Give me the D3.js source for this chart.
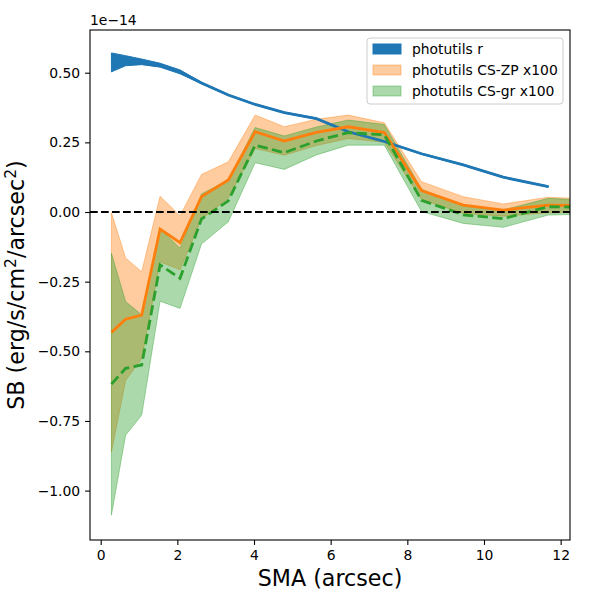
<!DOCTYPE html>
<html>
<head>
<meta charset="utf-8">
<script src="https://cdn.jsdelivr.net/npm/d3@7"></script>
<style>
  body { margin: 0; background: #fff; }
  text { font-family: 'DejaVu Sans', sans-serif; fill: #000; }
</style>
</head>
<body>
<svg></svg>
<script>
/* global d3 */
const width = 600
const height = 600
const margin = { top: 30, bottom: 60, left: 90, right: 30 }

// semi-major axis (arcsec)
const sma = [0.28, 0.65, 1.07, 1.55, 2.07, 2.63, 3.33, 4.03, 4.79, 5.63, 6.46, 7.40, 8.37, 9.46, 10.50, 11.68, 12.85]
// photutils r profile (units of 1e-14), first 16 radii
const rProfile = [0.537, 0.543, 0.539, 0.527, 0.503, 0.463, 0.42, 0.386, 0.357, 0.335, 0.288, 0.253, 0.209, 0.169, 0.125, 0.091]
const rErr = [0.034, 0.018, 0.010, 0.007, 0.007, 0.003, 0.002, 0.002, 0.002, 0.002, 0.002, 0.002, 0.002, 0.002, 0.002, 0.002]
// CS-ZP x100
const zpProfile = [-0.432, -0.385, -0.370, -0.061, -0.110, 0.055, 0.115, 0.288, 0.255, 0.286, 0.306, 0.285, 0.077, 0.025, 0.007, 0.025, 0.023]
const zpErr = [0.43, 0.22, 0.156, 0.118, 0.097, 0.08, 0.065, 0.06, 0.051, 0.047, 0.042, 0.035, 0.032, 0.03, 0.022, 0.028, 0.023]
// CS-gr x100
const grProfile = [-0.618, -0.561, -0.549, -0.19, -0.238, -0.025, 0.04, 0.24, 0.213, 0.255, 0.285, 0.277, 0.042, -0.010, -0.024, 0.019, 0.017]
const grErr = [0.47, 0.24, 0.18, 0.13, 0.108, 0.09, 0.075, 0.063, 0.06, 0.05, 0.045, 0.037, 0.04, 0.031, 0.031, 0.03, 0.024]

const xTicks = [0, 2, 4, 6, 8, 10, 12]
const yTicks = [-1.0, -0.75, -0.5, -0.25, 0, 0.25, 0.5]
const legendLabels = ['photutils r', 'photutils CS-ZP x100', 'photutils CS-gr x100']

const C0 = '#1f77b4'
const C1 = '#ff7f0e'
const C2 = '#2ca02c'

const svg = d3.select('svg').attr('width', width).attr('height', height)

/** Scales */
const xScale = d3.scaleLinear()
  .domain([-0.279, 12.244])
  .range([margin.left, width - margin.right])
const yScale = d3.scaleLinear()
  .domain([-1.1773, 0.6533])
  .range([height - margin.bottom, margin.top])

svg.append('clipPath').attr('id', 'clip')
  .append('rect')
  .attr('x', margin.left).attr('y', margin.top)
  .attr('width', width - margin.left - margin.right)
  .attr('height', height - margin.top - margin.bottom)

const plot = svg.append('g').attr('clip-path', 'url(#clip)')

const rows = (vals, errs) => vals.map((v, i) => ({ x: sma[i], v, e: errs[i] }))
const band = d3.area()
  .x(d => xScale(d.x))
  .y0(d => yScale(d.v - d.e))
  .y1(d => yScale(d.v + d.e))
const line = d3.line()
  .x(d => xScale(d.x))
  .y(d => yScale(d.v))

const rData = rows(rProfile, rErr)
const zpData = rows(zpProfile, zpErr)
const grData = rows(grProfile, grErr)

/** Bands first (below the lines, as in matplotlib) */
plot.append('path').attr('d', band(rData)).attr('fill', C0).attr('stroke', C0).attr('stroke-width', 1)
plot.append('path').attr('d', band(zpData))
  .attr('fill', C1).attr('fill-opacity', 0.4)
  .attr('stroke', C1).attr('stroke-opacity', 0.4).attr('stroke-width', 1)
plot.append('path').attr('d', band(grData))
  .attr('fill', C2).attr('fill-opacity', 0.4)
  .attr('stroke', C2).attr('stroke-opacity', 0.4).attr('stroke-width', 1)

/** Lines */
plot.append('path').attr('d', line(rData)).attr('fill', 'none')
  .attr('stroke', C0).attr('stroke-width', 2.8)
plot.append('path').attr('d', line(zpData)).attr('fill', 'none')
  .attr('stroke', C1).attr('stroke-width', 2.8)
plot.append('path').attr('d', line(grData)).attr('fill', 'none')
  .attr('stroke', C2).attr('stroke-width', 2.8)
  .attr('stroke-dasharray', '10.3,4.4')

// zero line
plot.append('line')
  .attr('x1', margin.left).attr('x2', width - margin.right)
  .attr('y1', yScale(0)).attr('y2', yScale(0))
  .attr('stroke', '#000').attr('stroke-width', 2.1)
  .attr('stroke-dasharray', '7.7,3.3')

/** Axes */
const xAxis = d3.axisBottom(xScale).tickValues(xTicks).tickSize(4.9).tickPadding(4.9)
  .tickFormat(d3.format('d'))
const yAxis = d3.axisLeft(yScale).tickValues(yTicks).tickSize(4.9).tickPadding(4.9)
  .tickFormat(d3.format('.2f'))

const gx = svg.append('g')
  .attr('transform', `translate(0, ${height - margin.bottom})`)
  .call(xAxis)
const gy = svg.append('g')
  .attr('transform', `translate(${margin.left}, 0)`)
  .call(yAxis)
;[gx, gy].forEach(g => {
  g.select('.domain').remove()
  g.selectAll('line').attr('stroke', '#000').attr('stroke-width', 1.1)
  g.selectAll('text').attr('font-size', 13.9).attr('font-family', 'DejaVu Sans').attr('fill', '#000')
})

svg.append('rect')
  .attr('x', margin.left).attr('y', margin.top)
  .attr('width', width - margin.left - margin.right)
  .attr('height', height - margin.top - margin.bottom)
  .attr('fill', 'none').attr('stroke', '#000').attr('stroke-width', 1.1)

// offset text
svg.append('text').attr('x', margin.left).attr('y', 25)
  .attr('font-size', 13.9).text('1e\u221214')

/** Axis labels */
svg.append('text')
  .attr('x', (margin.left + width - margin.right) / 2).attr('y', 586)
  .attr('text-anchor', 'middle').attr('font-size', 22.2)
  .text('SMA (arcsec)')

const yl = svg.append('text')
  .attr('transform', `translate(24, ${(margin.top + height - margin.bottom) / 2}) rotate(-90)`)
  .attr('text-anchor', 'middle').attr('font-size', 22.2)
yl.append('tspan').text('SB (erg/s/cm')
yl.append('tspan').attr('font-size', 15.5).attr('dy', -8).text('2')
yl.append('tspan').attr('dy', 8).text('/arcsec')
yl.append('tspan').attr('font-size', 15.5).attr('dy', -8).text('2')
yl.append('tspan').attr('dy', 8).text(')')

/** Legend */
const legend = svg.append('g').attr('transform', 'translate(367, 38)')
legend.append('rect')
  .attr('width', 196).attr('height', 66).attr('rx', 3)
  .attr('fill', '#fff').attr('fill-opacity', 0.8)
  .attr('stroke', '#ccc').attr('stroke-width', 1)
const swatches = [
  { color: C0, opacity: 1 },
  { color: C1, opacity: 0.4 },
  { color: C2, opacity: 0.4 }
]
legendLabels.forEach((label, i) => {
  const cy = 11 + i * 21
  legend.append('rect')
    .attr('x', 6).attr('y', cy - 5).attr('width', 28).attr('height', 10)
    .attr('fill', swatches[i].color).attr('fill-opacity', swatches[i].opacity)
    .attr('stroke', swatches[i].color).attr('stroke-opacity', swatches[i].opacity)
  legend.append('text')
    .attr('x', 45).attr('y', cy + 5)
    .attr('font-size', 13.9).text(label)
})
</script>
</body>
</html>
